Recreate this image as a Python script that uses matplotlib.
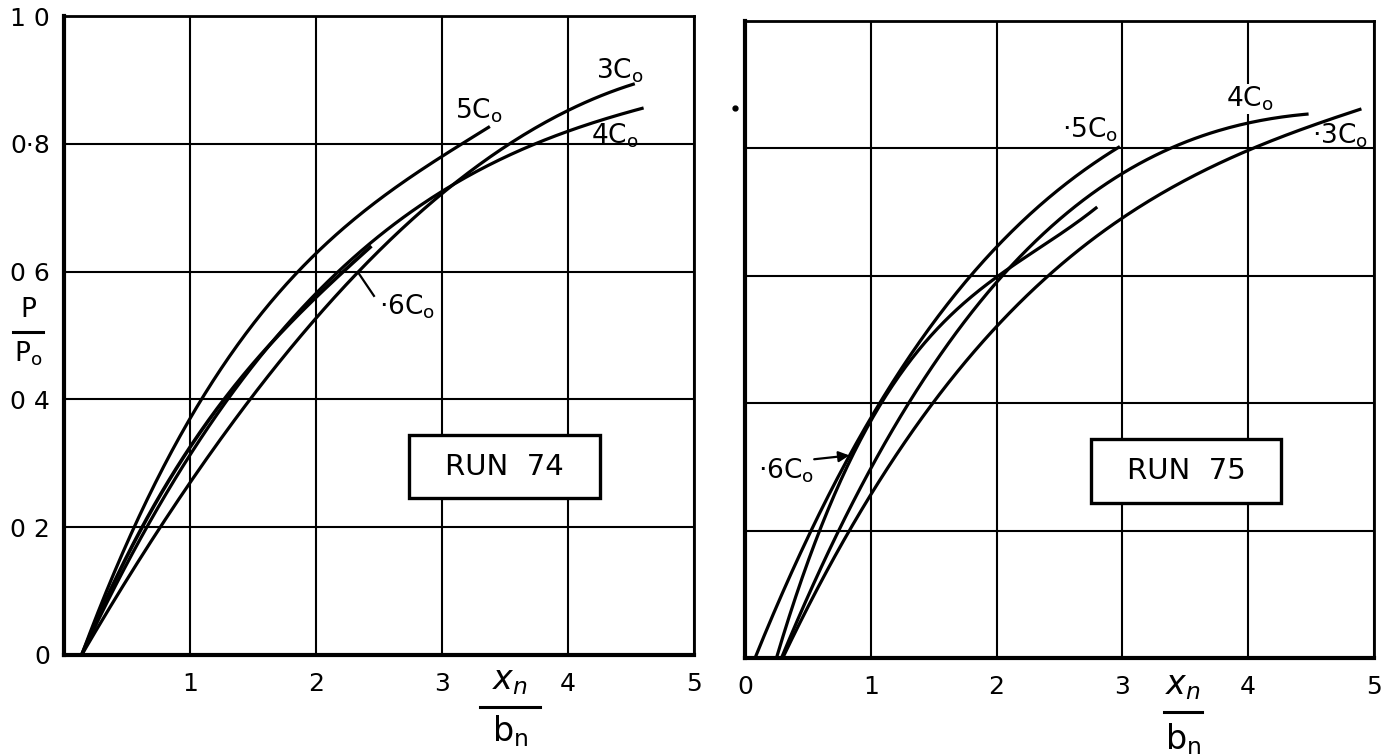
import numpy as np
import matplotlib
matplotlib.use("Agg")
import matplotlib.pyplot as plt
from matplotlib.patches import Rectangle
from matplotlib.lines import Line2D

plt.rcParams["font.family"] = ["DejaVu Sans"]
plt.rcParams["mathtext.fontset"] = "dejavusans"

# ---------------- data: P/Po against x_n/b_n ----------------
# Run 74
r74_5c_x = [0.14, 0.54, 1.00, 1.50, 2.00, 2.50, 3.00, 3.38]
r74_5c_y = [0.00, 0.20, 0.378, 0.505, 0.627, 0.712, 0.792, 0.827]
r74_4c_x = [0.14, 0.62, 1.00, 1.28, 2.00, 2.50, 3.00, 3.50, 4.00, 4.60]
r74_4c_y = [0.00, 0.20, 0.317, 0.40, 0.555, 0.645, 0.723, 0.790, 0.828, 0.856]
r74_3c_x = [0.14, 0.75, 1.00, 1.47, 2.00, 2.50, 3.00, 3.47, 4.00, 4.53]
r74_3c_y = [0.00, 0.20, 0.266, 0.40, 0.527, 0.631, 0.720, 0.794, 0.853, 0.894]
r74_6c_x = [0.14, 0.61, 1.00, 1.50, 2.00, 2.44]
r74_6c_y = [0.00, 0.20, 0.322, 0.455, 0.562, 0.640]

# Run 75
r75_5c_x = [0.08, 0.50, 1.00, 1.08, 1.50, 1.75, 2.00, 2.50, 2.98]
r75_5c_y = [0.00, 0.20, 0.370, 0.40, 0.520, 0.600, 0.650, 0.730, 0.803]
r75_6c_x = [0.25, 0.595, 0.83, 1.00, 1.31, 2.00, 2.50, 2.80]
r75_6c_y = [0.00, 0.20, 0.316, 0.368, 0.462, 0.600, 0.665, 0.708]
r75_4c_x = [0.29, 0.73, 1.00, 1.32, 2.00, 2.50, 3.00, 3.35, 4.00, 4.48]
r75_4c_y = [0.00, 0.20, 0.296, 0.40, 0.600, 0.680, 0.760, 0.800, 0.841, 0.854]
r75_3c_x = [0.30, 0.79, 1.00, 1.50, 2.00, 2.44, 3.00, 3.95, 4.90]
r75_3c_y = [0.00, 0.20, 0.256, 0.40, 0.519, 0.600, 0.689, 0.800, 0.862]

x_ticks = [1, 2, 3, 4, 5]
x_ticks_r = [0, 1, 2, 3, 4, 5]
y_ticks = [0.0, 0.2, 0.4, 0.6, 0.8, 1.0]
y_tick_labels = ["0", "0 2", "0 4", "0 6", "0·8", "1 0"]


def smooth(xp, yp, n=200, deg=3):
    """Smooth drawn curve: weighted least-squares cubic through the points,
    pinned closely at both ends."""
    x = np.asarray(xp, float)
    y = np.asarray(yp, float)
    w = np.ones_like(x)
    w[0] = w[-1] = 8.0
    coef = np.polyfit(x, y, min(deg, len(x) - 1), w=w)
    xs = np.linspace(x[0], x[-1], n)
    return xs, np.polyval(coef, xs)


W, H = 1395, 755
fig = plt.figure(figsize=(W / 100, H / 100), dpi=100)
fig.patch.set_facecolor("white")

axL = fig.add_axes([64 / W, 1 - 655 / H, 630 / W, 639 / H])
axR = fig.add_axes([745 / W, 1 - 658 / H, 629 / W, 637 / H])

CURVE_LW = 2.3
LABEL_FS = 19
TICK_FS = 18


def setup(ax):
    ax.set_xlim(0, 5)
    ax.set_ylim(0, 1.0)
    ax.set_axisbelow(True)
    ax.grid(True, color="black", linewidth=1.5)
    ax.tick_params(length=0)
    for side in ("left", "bottom"):
        ax.spines[side].set_linewidth(3.0)
    for side in ("top", "right"):
        ax.spines[side].set_linewidth(2.0)
    ax.set_yticks(y_ticks)


def curve(ax, xp, yp, lw=CURVE_LW):
    xs, ys = smooth(xp, yp)
    ax.plot(xs, ys, color="black", linewidth=lw, solid_capstyle="butt", zorder=3)


def clabel(ax, x, y, s, mask=False):
    kw = {}
    if mask:
        kw["bbox"] = dict(facecolor="white", edgecolor="none", pad=0.5)
    ax.text(x, y, s, fontsize=LABEL_FS, ha="center", va="center", zorder=5, **kw)


def run_box(ax, x0, y0, x1, y1, s):
    ax.add_patch(Rectangle((x0, y0), x1 - x0, y1 - y0, facecolor="white",
                           edgecolor="black", linewidth=2.4, zorder=4))
    ax.text((x0 + x1) / 2, (y0 + y1) / 2, s, fontsize=21, ha="center",
            va="center", zorder=5)


def fig_fraction(xc, y_num, y_bar, y_den, half_w, num, den, fs=20, lw=2.2):
    fig.text(xc / W, 1 - y_num / H, num, fontsize=fs, ha="center", va="center")
    fig.add_artist(Line2D([(xc - half_w) / W, (xc + half_w) / W],
                          [1 - y_bar / H, 1 - y_bar / H], color="black", linewidth=lw))
    fig.text(xc / W, 1 - y_den / H, den, fontsize=fs, ha="center", va="center")


# ---------------- Run 74 ----------------
setup(axL)
axL.set_xticks(x_ticks)
axL.set_xticklabels([str(v) for v in x_ticks], fontsize=TICK_FS)
axL.set_yticklabels(y_tick_labels, fontsize=TICK_FS)
axL.tick_params(axis="x", pad=12)
axL.tick_params(axis="y", pad=10)

curve(axL, r74_5c_x, r74_5c_y)
curve(axL, r74_4c_x, r74_4c_y)
curve(axL, r74_3c_x, r74_3c_y)
curve(axL, r74_6c_x, r74_6c_y, lw=2.6)

clabel(axL, 3.29, 0.852, r"5C$_\mathrm{o}$")
clabel(axL, 4.41, 0.914, r"3C$_\mathrm{o}$")
clabel(axL, 4.37, 0.812, r"4C$_\mathrm{o}$")
clabel(axL, 2.72, 0.545, r"·6C$_\mathrm{o}$")
axL.plot([2.34, 2.46], [0.597, 0.562], color="black", linewidth=1.6, zorder=4)

run_box(axL, 2.74, 0.245, 4.25, 0.344, "RUN  74")

# ---------------- Run 75 ----------------
setup(axR)
axR.set_xticks(x_ticks_r)
axR.set_xticklabels([str(v) for v in x_ticks_r], fontsize=TICK_FS)
axR.set_yticklabels([])
axR.tick_params(axis="x", pad=12)

curve(axR, r75_5c_x, r75_5c_y)
curve(axR, r75_6c_x, r75_6c_y)
curve(axR, r75_4c_x, r75_4c_y)
curve(axR, r75_3c_x, r75_3c_y)

clabel(axR, 2.74, 0.830, r"·5C$_\mathrm{o}$")
clabel(axR, 4.01, 0.878, r"4C$_\mathrm{o}$", mask=True)
clabel(axR, 4.73, 0.820, r"·3C$_\mathrm{o}$")
axR.text(0.33, 0.294, r"·6C$_\mathrm{o}$", fontsize=LABEL_FS, ha="center",
         va="center", zorder=5)
axR.annotate("", xy=(0.83, 0.318), xytext=(0.55, 0.312), zorder=5,
             arrowprops=dict(arrowstyle="-|>", color="black", lw=1.6,
                             mutation_scale=16, shrinkA=0, shrinkB=0))

run_box(axR, 2.75, 0.244, 4.26, 0.344, "RUN  75")

# stray dot left of the second frame
fig.add_artist(Line2D([735 / W], [1 - 108 / H], marker="o", markersize=3.5,
                      color="black", linestyle="none"))

# ---------------- axis titles ----------------
fig_fraction(28, 310, 332, 354, 15, "P", r"P$_\mathrm{o}$", fs=19)
fig_fraction(510, 680, 707, 731, 30, r"$x_n$", r"b$_\mathrm{n}$", fs=24)
fig_fraction(1183, 685, 712, 739, 19, r"$x_n$", r"b$_\mathrm{n}$", fs=24)

fig.savefig("out.png", dpi=100, facecolor="white")
